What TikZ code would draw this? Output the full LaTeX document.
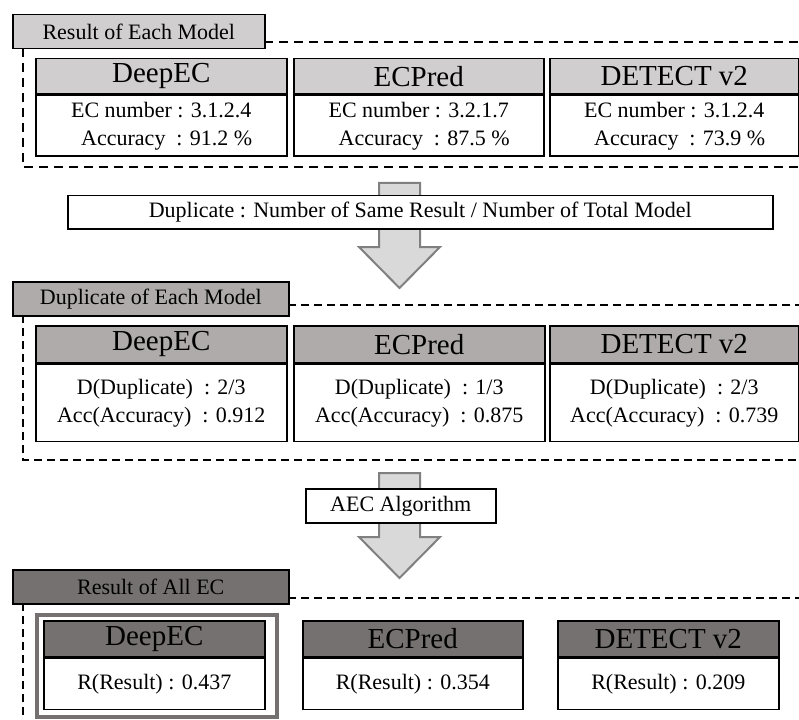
\documentclass[tikz,border=0pt]{standalone}
\usepackage{fontspec}
\setmainfont{Liberation Serif}
\usetikzlibrary{positioning}

\definecolor{graylight}{HTML}{D0CECE}
\definecolor{graymid}{HTML}{AFABAB}
\definecolor{graydark}{HTML}{767171}
\definecolor{arrowfill}{HTML}{D9D9D9}
\definecolor{arrowline}{HTML}{808080}

\begin{document}
\begin{tikzpicture}[x=1pt,y=-1pt,
    tabbox/.style={draw,line width=1.5pt,inner sep=0pt,anchor=north west,
        font=\rmfamily\fontsize{22}{24}\selectfont},
    headbox/.style={draw,line width=1.5pt,inner sep=0pt,anchor=north west,
        font=\rmfamily\fontsize{29}{30}\selectfont},
    bodybox/.style={draw,fill=white,line width=1.5pt,inner sep=0pt,align=center,
        font=\rmfamily\fontsize{22}{28}\selectfont},
    notebox/.style={draw,fill=white,line width=1.5pt,inner sep=0pt,anchor=north west,
        font=\rmfamily\fontsize{22}{24}\selectfont},
    frameline/.style={line width=1.5pt,dash pattern=on 9pt off 6pt},
    blockarrow/.style={fill=arrowfill,draw=arrowline,line width=2pt,line join=miter}]
    \useasboundingbox (0,0) rectangle (799,719); % page size

    %
    % Block arrows between the three stages
    %
    \foreach \dy in {0,290} {
        \filldraw[blockarrow] (379,183+\dy) -- (420,183+\dy) -- (420,247+\dy)
            -- (440,247+\dy) -- (399.5,288+\dy) -- (359,247+\dy) -- (379,247+\dy) -- cycle;
    }

    %
    % Stage 1 : result of each model
    %
    \node[tabbox,fill=graylight,minimum width=252pt,minimum height=34pt] (tabA) at (12,14) {Result of Each Model};
    \draw[frameline] (264,42) -- (799,42);   % top of frame
    \draw[frameline] (23,48) -- (23,167) -- (799,167); % left and bottom of frame
    \foreach \nm/\xl/\xr/\ec/\acc [count=\i] in {DeepEC/35/286/3.1.2.4/91.2,
            ECPred/293/543/3.2.1.7/87.5, {DETECT v2}/549/798/3.1.2.4/73.9} {
        \pgfmathsetmacro {\w}{\xr-\xl} % box width
        \node[headbox,fill=graylight,minimum width=\w pt,minimum height=35pt] (headA\i) at (\xl,58) {\nm};
        \node[bodybox,minimum width=\w pt,minimum height=61pt,below=0pt of headA\i] (bodyA\i)
            {EC number : \ec\\ \ \ Accuracy \ : \acc\ \%};
    }

    \node[notebox,minimum width=705pt,minimum height=33pt] (dupnote) at (67,195)
        {Duplicate : Number of Same Result / Number of Total Model};

    %
    % Stage 2 : duplicate of each model
    %
    \node[tabbox,fill=graymid,minimum width=276pt,minimum height=34pt] (tabB) at (12,281) {Duplicate of Each Model};
    \draw[frameline,line width=1.2pt,dash pattern=on 8pt off 5pt] (288,305) -- (799,305);
    \draw[frameline,line width=1.2pt,dash pattern=on 8pt off 5pt] (23,315) -- (23,460) -- (799,460);
    \foreach \nm/\xl/\xr/\d/\acc [count=\i] in {DeepEC/35/286/2/0.912,
            ECPred/293/544/1/0.875, {DETECT v2}/549/798/2/0.739} {
        \pgfmathsetmacro {\w}{\xr-\xl} % box width
        \node[headbox,fill=graymid,minimum width=\w pt,minimum height=37pt] (headB\i) at (\xl,325) {\nm};
        \node[bodybox,minimum width=\w pt,minimum height=77pt,below=0pt of headB\i] (bodyB\i)
            {D(Duplicate) \ : \d/3\\Acc(Accuracy) \ : \acc};
    }

    \node[notebox,minimum width=190pt,minimum height=34pt] (aecnote) at (305,488) {AEC Algorithm};

    %
    % Stage 3 : result of all EC
    %
    \node[tabbox,fill=graydark,minimum width=276pt,minimum height=34pt] (tabC) at (12,569) {Result of All EC};
    \draw[frameline,line width=1.2pt,dash pattern=on 8pt off 5pt] (288,598) -- (799,598);
    \draw[frameline,line width=1.2pt,dash pattern=on 8pt off 5pt] (23,603) -- (23,719);
    \node[draw=graydark,line width=4pt,inner sep=0pt,anchor=north west,
        minimum width=240pt,minimum height=102pt] (pick) at (35,613) {}; % best model
    \foreach \nm/\xl/\xr/\res [count=\i] in {DeepEC/43/264/0.437,
            ECPred/302/522/0.354, {DETECT v2}/557/778/0.209} {
        \pgfmathsetmacro {\w}{\xr-\xl} % box width
        \node[headbox,fill=graydark,minimum width=\w pt,minimum height=36pt] (headC\i) at (\xl,620) {\nm};
        \node[bodybox,minimum width=\w pt,minimum height=51pt,below=0pt of headC\i] (bodyC\i)
            {R(Result) : \res};
    }
\end{tikzpicture}
\end{document}
